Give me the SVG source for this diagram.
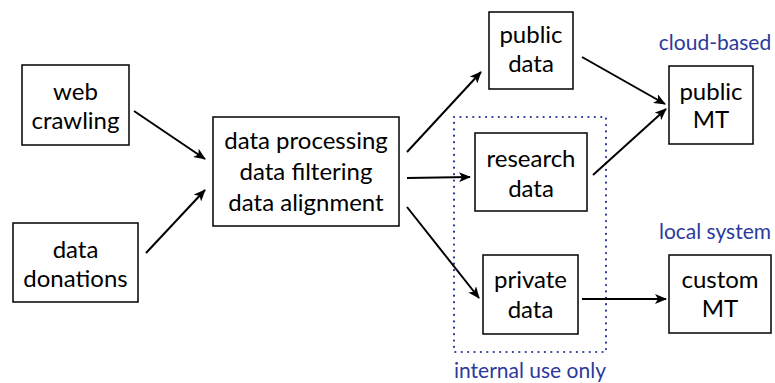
<svg xmlns="http://www.w3.org/2000/svg" width="775" height="383" viewBox="0 0 775 383">
<defs>
<style>
.box{fill:#fff;stroke:#000;stroke-width:1.5}
.t{font-family:Lato,"Open Sans","Liberation Sans",sans-serif;font-size:24px;fill:#000;text-anchor:middle}
.lbl{font-family:Lato,"Open Sans","Liberation Sans",sans-serif;font-size:21px;fill:#2b3a9c;text-anchor:middle}
.c{stroke:#000;stroke-width:2;fill:none;marker-end:url(#ah)}
.dot{fill:none;stroke:#2b3a9c;stroke-width:2.2;stroke-dasharray:0.1 6.3;stroke-linecap:round}
</style>
<marker id="ah" viewBox="0 0 12 10" refX="11" refY="5" markerWidth="12" markerHeight="10" markerUnits="userSpaceOnUse" orient="auto">
<path d="M0,0 L12,5 L0,10 L3,5 Z" fill="#000"/>
</marker>
</defs>
<rect class="dot" x="454" y="117" width="152" height="235"/>
<g id="connectors">
<line class="c" x1="134" y1="111" x2="205" y2="159"/>
<line class="c" x1="146" y1="253" x2="205" y2="190"/>
<line class="c" x1="407" y1="152" x2="481" y2="72"/>
<line class="c" x1="407" y1="178" x2="470" y2="177"/>
<line class="c" x1="407" y1="207" x2="479" y2="298"/>
<line class="c" x1="582" y1="57" x2="665" y2="104"/>
<line class="c" x1="593" y1="175" x2="666" y2="109"/>
<line class="c" x1="582" y1="299" x2="666" y2="299"/>
</g>
<g id="web-crawling">
<rect class="box" x="22" y="65" width="107" height="80"/>
<text class="t" x="75.5" y="100">web</text>
<text class="t" x="75.5" y="129">crawling</text>
</g>
<g id="data-donations">
<rect class="box" x="13" y="223" width="125" height="79"/>
<text class="t" x="75.5" y="258">data</text>
<text class="t" x="75.5" y="287">donations</text>
</g>
<g id="processing">
<rect class="box" x="213" y="117" width="186" height="109"/>
<text class="t" x="306" y="149">data processing</text>
<text class="t" x="306" y="180">data filtering</text>
<text class="t" x="306" y="211">data alignment</text>
</g>
<g id="public-data">
<rect class="box" x="489" y="12" width="84" height="77"/>
<text class="t" x="531" y="43">public</text>
<text class="t" x="531" y="72">data</text>
</g>
<g id="research-data">
<rect class="box" x="475" y="133" width="112" height="78"/>
<text class="t" x="531" y="167">research</text>
<text class="t" x="531" y="197">data</text>
</g>
<g id="private-data">
<rect class="box" x="483" y="255" width="95" height="79"/>
<text class="t" x="530.5" y="288">private</text>
<text class="t" x="530.5" y="318">data</text>
</g>
<g id="public-mt">
<rect class="box" x="669" y="66" width="84" height="78"/>
<text class="t" x="711" y="100">public</text>
<text class="t" x="711" y="128">MT</text>
</g>
<g id="custom-mt">
<rect class="box" x="669" y="255" width="102" height="78"/>
<text class="t" x="720" y="288">custom</text>
<text class="t" x="720" y="317">MT</text>
</g>
<g id="labels">
<text class="lbl" x="715" y="50">cloud-based</text>
<text class="lbl" x="715" y="239">local system</text>
<text class="lbl" x="530" y="378">internal use only</text>
</g>
</svg>
